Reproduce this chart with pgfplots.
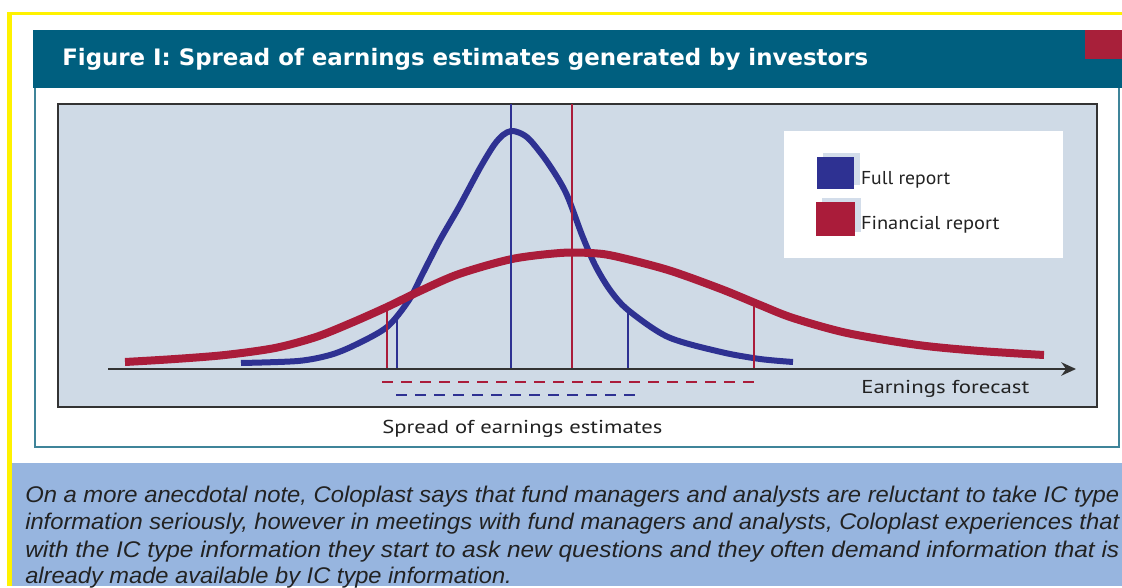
\documentclass[border=0pt]{standalone}
\usepackage{pgfplots}
\pgfplotsset{compat=1.18}
\usepackage{graphicx}
\usepackage{fontspec}
\setmainfont{Liberation Sans}
\newfontfamily\titlefont{DejaVu Sans}
\newfontfamily\labelfont{PT Sans}
\usetikzlibrary{arrows.meta}
\definecolor{cyellow}{HTML}{FFF200}
\definecolor{cteal}{HTML}{005F7F}
\definecolor{credsq}{HTML}{A8203A}
\definecolor{cred}{HTML}{AA1C3A}
\definecolor{cblue}{HTML}{2E3192}
\definecolor{cbg}{HTML}{CFDAE6}
\definecolor{cshadow}{HTML}{D3DDEA}
\definecolor{cpanel}{HTML}{97B5DF}
\definecolor{cframe}{HTML}{333333}
\definecolor{cborder}{HTML}{3F8499}
\definecolor{ctext}{HTML}{222222}
\begin{document}
\begin{tikzpicture}[x=0.75pt,y=0.75pt]
\begin{axis}[
  width=841.5pt, height=439.5pt, scale only axis,
  xmin=0, xmax=1122, ymin=0, ymax=586, y dir=reverse,
  hide axis, clip=false,
  legend image code/.code={
    \fill[cshadow] (4.5pt,-2.5pt) rectangle (27.75pt,17pt);
    \fill[#1] (0pt,-5.5pt) rectangle (23.25pt,14pt);
  },
  legend style={at={(axis cs:816,153)}, anchor=north west, draw=none, fill=none,
    inner sep=0pt, outer sep=0pt, row sep=6.5pt, column sep=0pt,
    nodes={inner sep=0pt, text=ctext},
    legend cell align=left},
]
% background
\fill[white] (0,0) rectangle (1122,586);
% yellow border
\fill[cyellow] (7,12) rectangle (1122,15.5);
\fill[cyellow] (7,12) rectangle (11.5,586);
% blue text panel
\fill[cpanel] (12,463) rectangle (1122,586);
% chart panel
\fill[white] (35,88) rectangle (1119,447);
\draw[cborder, line width=1.5pt] (35,88) -- (35,447) -- (1119,447) -- (1119,88);
% title bar
\fill[cteal] (33,30) rectangle (1122,88);
\fill[credsq] (1085,30) rectangle (1122,59);
\node[anchor=base west, inner sep=0pt, text=white] at (62,66)
  {\resizebox{604.5pt}{\height}{\titlefont\bfseries\fontsize{17}{20}\selectfont Figure I: Spread of earnings estimates generated by investors}};
% plot frame
\filldraw[fill=cbg, draw=cframe, line width=1.8pt] (58,104) rectangle (1097,407);
% legend box
\fill[white] (784,131) rectangle (1063,258);

% curves
\addplot[cblue, line width=4.5pt, smooth] coordinates {
(241,363) (298,361) (330,355) (355,345) (387,327) (409,300)
(423,273) (440,240) (459,207) (480,168) (494,145) (503,135) (511,131) (520,133) (530,140)
(548,163) (566,193) (582,235) (595,265) (610,290) (628,310) (668,337) (721,352) (760,359) (793,362)
};
\addlegendentry{\labelfont\fontsize{14}{16}\selectfont\resizebox{67pt}{\height}{Full report}}
\addplot[cred, line width=6pt, smooth] coordinates {
(125,362) (175,359) (225,355) (275,348) (316,337) (351,323) (387,307) (420,291)
(459,274) (512,259) (560,253) (590,253) (614,256) (668,270) (721,289) (760,305) (793,318)
(847,333) (918,345) (980,351) (1044,355)
};
\addlegendentry{\labelfont\fontsize{14}{16}\selectfont\resizebox{104pt}{\height}{Financial report}}

% vertical markers
\addplot[cblue, line width=1.5pt, forget plot] coordinates {(511,104) (511,369)};
\addplot[cred, line width=1.5pt, forget plot] coordinates {(572,104) (572,369)};
\addplot[cred, line width=1.5pt, forget plot] coordinates {(387,306) (387,369)};
\addplot[cblue, line width=1.5pt, forget plot] coordinates {(397,316) (397,369)};
\addplot[cblue, line width=1.5pt, forget plot] coordinates {(628,309) (628,369)};
\addplot[cred, line width=1.5pt, forget plot] coordinates {(754,302) (754,369)};

% spread dashed lines
\addplot[cred, line width=1.5pt, dash pattern=on 8.25pt off 6pt, forget plot] coordinates {(382,382) (761,382)};
\addplot[cblue, line width=1.5pt, dash pattern=on 8.25pt off 6pt, forget plot] coordinates {(396,395) (639,395)};

% baseline axis with arrow
\draw[cframe, line width=2.2pt, -{Stealth[length=11pt,width=10pt]}] (108,369) -- (1076,369);

% labels
\node[anchor=base west, inner sep=0pt, text=ctext] at (861,393)
  {\labelfont\fontsize{14}{16}\selectfont\resizebox{126pt}{\height}{Earnings forecast}};
\node[anchor=base west, inner sep=0pt, text=ctext] at (382,433)
  {\labelfont\fontsize{14}{16}\selectfont\resizebox{210pt}{\height}{Spread of earnings estimates}};

% body text
\node[anchor=base west, inner sep=0pt, text=ctext] at (25,502)
  {\resizebox{820.5pt}{\height}{\itshape\fontsize{17}{19}\selectfont On a more anecdotal note, Coloplast says that fund managers and analysts are reluctant to take IC type}};
\node[anchor=base west, inner sep=0pt, text=ctext] at (25,529)
  {\resizebox{820.5pt}{\height}{\itshape\fontsize{17}{19}\selectfont information seriously, however in meetings with fund managers and analysts, Coloplast experiences that}};
\node[anchor=base west, inner sep=0pt, text=ctext] at (25,557)
  {\resizebox{820.5pt}{\height}{\itshape\fontsize{17}{19}\selectfont with the IC type information they start to ask new questions and they often demand information that is}};
\node[anchor=base west, inner sep=0pt, text=ctext] at (25,583)
  {\resizebox{365pt}{\height}{\itshape\fontsize{17}{19}\selectfont already made available by IC type information.}};
\end{axis}
\end{tikzpicture}
\end{document}
